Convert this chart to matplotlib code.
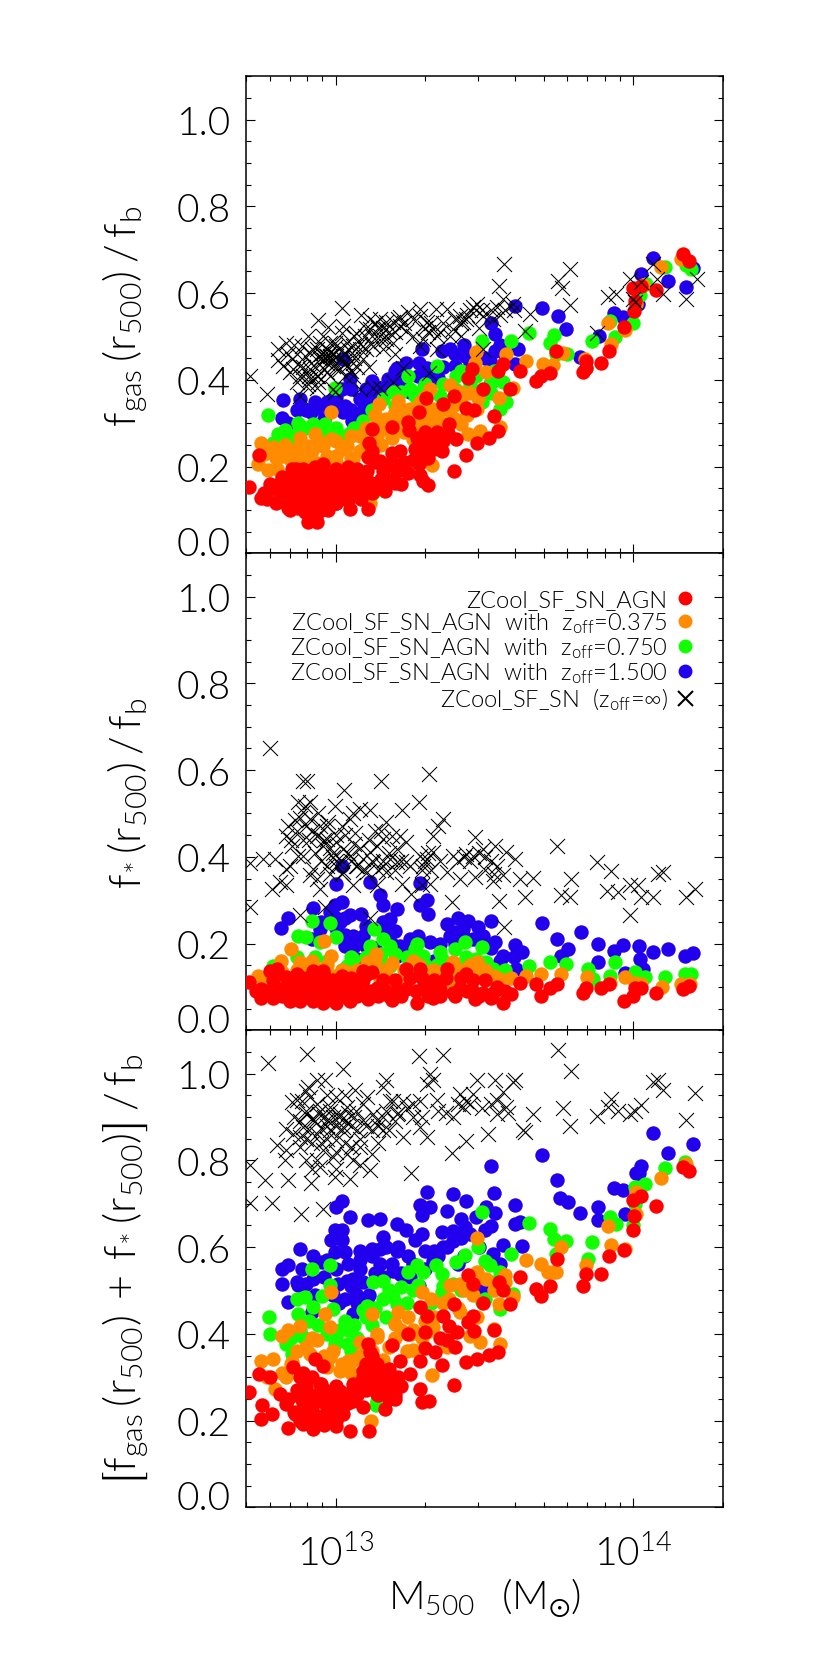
# -*- coding: utf-8 -*-
import numpy as np
import matplotlib
matplotlib.use('Agg')
import matplotlib.pyplot as plt
from matplotlib.lines import Line2D
from matplotlib.ticker import MultipleLocator, LogLocator, NullFormatter, FixedLocator
from matplotlib.transforms import ScaledTranslation

plt.rcParams['font.family'] = ['Lato', 'DejaVu Sans']
plt.rcParams['font.weight'] = 300
plt.rcParams['axes.labelweight'] = 300
plt.rcParams['mathtext.default'] = 'regular'

# (log10 M500, fraction)
red_gas = [(14.165,.69),(14.187,.675),(14.077,.608),(13.999,.611),(14.024,.617),(14.005,.582),(14.002,.559),(13.968,.521),
 (13.918,.467),(13.89,.44),(13.839,.444),(13.839,.428),(13.829,.418),(13.741,.467),(13.719,.415),(13.688,.408),(13.674,.398),
 (13.62,.42),(13.585,.38),(13.562,.436),(13.545,.421),(13.495,.378),(13.459,.425),(13.445,.405),(13.439,.336),(13.464,.331),
 (13.532,.317),(13.545,.282),(13.515,.267),(13.473,.255),(13.437,.227),(13.398,.19),(13.403,.263),(13.381,.298),(13.361,.344),
 (13.398,.362),(13.302,.358),(13.28,.325),(13.243,.303),(13.187,.292),(13.12,.286),(13.111,.255),(13.377,.278),(13.299,.28),
 (13.271,.267),(13.327,.263),(13.355,.236),(13.293,.232),(13.215,.236),(13.187,.232),(13.109,.221),(13.148,.213),(13.181,.205),
 (13.215,.198),(13.243,.186),(13.282,.18),(13.31,.158),(13.293,.167),(13.198,.163),(13.165,.144),(13.153,.172),(13.109,.167),
 (13.075,.155),(13.041,.198),(13.019,.186),(12.957,.205),(12.89,.194),(12.854,.194),(13.109,.103),(13.049,.103),(13.002,.117),
 (12.963,.103),(12.938,.072),(12.907,.072),(12.84,.105),(12.873,.105),(12.812,.121),(12.75,.127),(12.758,.14),(12.778,.159),
 (12.812,.163),(12.709,.152),(12.742,.226),(12.834,.148),(12.868,.155),(12.901,.163),(12.935,.171),(12.969,.155),(13.002,.148),
 (13.036,.148),(13.069,.14),(13.103,.148),(12.879,.132),(12.913,.125),(12.946,.132),(12.98,.125),(12.924,.148),(12.957,.178),
 (12.851,.175),(12.89,.175),(13.013,.132),(13.058,.171),(12.929,.098),(13.137,.163),(12.812,.14),
 (12.77,.125),(12.79,.15),(12.80,.115),(12.82,.175),(12.83,.125),(12.845,.10),(12.85,.155),(12.86,.125),(12.865,.195),(12.875,.14),
 (12.885,.11),(12.89,.155),(12.895,.095),(12.905,.19),(12.91,.14),(12.92,.115),(12.925,.17),(12.935,.09),(12.94,.145),(12.945,.195),
 (12.95,.115),(12.96,.15),(12.97,.18),(12.975,.10),(12.985,.14),(12.99,.17),(13.0,.115),(13.01,.15),(13.02,.17),(13.03,.125),
 (13.045,.165),(13.05,.13),(13.07,.16),(13.085,.125),(13.09,.17),(13.105,.19),(13.12,.14),(13.13,.21),(13.15,.15),(13.16,.19),
 (13.18,.17),(13.19,.21),(13.205,.19),(13.22,.16),(13.23,.21),(13.26,.215),(13.28,.205),(13.31,.22),(13.33,.24),(13.265,.24),
 (13.12,.235),(13.07,.195),(13.0,.195),(12.93,.20),(13.245,.285),(13.34,.28),(13.36,.26),(13.3,.26)]
orange_gas = [(14.094,.66),(14.161,.678),(13.915,.53),(13.971,.516),(13.926,.482),(13.837,.448),(13.763,.463),(13.696,.436),
 (13.73,.434),(13.638,.444),(13.573,.459),(13.472,.465),(13.467,.44),(13.506,.417),(13.383,.388),(13.316,.379),(13.209,.352),
 (13.144,.344),(12.985,.325),(13.137,.313),(13.198,.325),(13.248,.333),(13.282,.348),(13.327,.333),(13.417,.371),(13.478,.359),
 (13.549,.359),(13.596,.382),(13.473,.333),(13.445,.275),(13.484,.283),(13.551,.292),(13.422,.298),(13.327,.309),(13.338,.282),
 (13.282,.286),(13.17,.286),(13.137,.27),(13.081,.27),(13.036,.248),(12.983,.263),(12.879,.267),(12.75,.255),(12.789,.244),
 (12.851,.236),(12.907,.248),(12.957,.248),(12.739,.207),(12.772,.192),(12.803,.195),(13.324,.204),(13.058,.217),(13.002,.225),
 (12.913,.225),(12.846,.217),(13.114,.117),(12.935,.208),(13.26,.263),(13.394,.34),(14.01,.575),(14.032,.618),
 (12.8,.22),(12.83,.25),(12.87,.235),(12.89,.215),(12.92,.235),(12.94,.26),(12.97,.225),(13.0,.21),(13.02,.24),(13.05,.22),
 (13.08,.235),(13.1,.25),(13.12,.23),(13.15,.25),(13.17,.31),(13.19,.265),(13.21,.31),(13.23,.28),(13.25,.30),(13.28,.31),
 (13.3,.33),(13.31,.30),(13.35,.33),(13.38,.33),(13.36,.30),(13.4,.31),(13.42,.35),(13.44,.32),(13.45,.37),(13.3,.36),
 (13.27,.335),(13.23,.33),(13.21,.34),(13.16,.30),(13.13,.32),(13.10,.29),(13.05,.27),(13.0,.26),(12.93,.275),(12.88,.25),
 (12.82,.225),(12.76,.23),(13.02,.19),(13.07,.19),(13.14,.21)]
green_gas = [(12.773,.318),(12.873,.301),(12.924,.298),(12.963,.298),(13.002,.29),(12.806,.275),(12.834,.263),(12.79,.255),
 (12.795,.236),(13.047,.278),(13.092,.305),(12.996,.382),(13.243,.408),(13.341,.431),(13.404,.41),(13.49,.49),(13.587,.49),
 (13.65,.507),(13.734,.504),(13.719,.485),(13.778,.459),(13.741,.459),(13.86,.49),(13.937,.498),(13.92,.536),(13.999,.53),
 (14.042,.621),(14.106,.66),(14.178,.664),(13.192,.371),(13.22,.371),(13.265,.363),(13.293,.379),(13.349,.363),(13.523,.394),
 (13.562,.394),(13.573,.348),(13.551,.333),(13.49,.348),(13.842,.428),(14.022,.595),(13.126,.14),(13.103,.125),(14.195,.655),
 (13.265,.298),
 (12.83,.285),(12.87,.275),(12.90,.29),(12.95,.27),(12.98,.28),(13.02,.27),(13.06,.29),(13.12,.33),(13.16,.355),(13.2,.34),
 (13.25,.38),(13.3,.39),(13.36,.39),(13.4,.38),(13.45,.39),(13.48,.37),(13.52,.37),(13.53,.42),(13.47,.41),(13.42,.42),
 (12.8,.25),(12.85,.25)]
blue_gas = [(14.067,.682),(14.117,.628),(14.176,.614),(14.2,.659),(14.024,.644),(13.966,.544),(13.936,.554),(13.885,.502),
 (13.821,.452),(13.775,.517),(13.747,.548),(13.694,.565),(13.601,.571),(13.523,.532),(13.534,.505),(13.612,.47),(13.601,.436),
 (13.534,.467),(13.517,.444),(13.433,.456),(13.383,.47),(13.355,.467),(13.288,.47),(13.237,.44),(13.204,.428),(13.305,.428),
 (13.277,.409),(13.344,.405),(13.4,.432),(13.523,.394),(13.176,.402),(13.12,.398),(13.047,.402),(13.025,.448),(13.148,.382),
 (13.248,.371),(12.823,.354),(12.879,.355),(12.818,.313),(12.84,.301),(12.935,.336),(12.969,.348),(13.013,.336),(13.081,.355),
 (13.114,.363),(13.025,.325),(13.053,.305),(12.991,.355),(12.918,.325),(14.015,.575),
 (12.87,.33),(12.9,.33),(12.93,.35),(12.96,.31),(12.98,.33),(13.0,.36),(13.03,.34),(13.05,.33),(13.07,.31),(13.09,.33),
 (13.11,.35),(13.13,.38),(13.16,.37),(13.18,.38),(13.2,.42),(13.22,.40),(13.28,.44),(13.32,.41),(13.36,.43),(13.4,.46),
 (13.43,.48),(13.45,.44),(13.48,.45),(13.5,.45),(13.55,.48),(13.57,.46),(13.3,.39),(13.05,.38),(13.1,.38),(13.02,.38)]
cross_gas = [(12.713,.41),(12.767,.367),(12.806,.472),(12.806,.445),(12.834,.486),(12.846,.417),(12.868,.394),(12.879,.363),
 (12.907,.502),(12.94,.537),(12.974,.521),(13.019,.565),(13.084,.549),(13.019,.509),(12.996,.486),(12.935,.47),(12.957,.463),
 (12.98,.455),(13.002,.455),(13.03,.463),(13.058,.478),(13.081,.482),(12.946,.448),(12.969,.44),(12.991,.432),(13.013,.425),
 (13.036,.432),(13.058,.44),(12.913,.425),(12.89,.409),(12.913,.402),(12.935,.409),(12.896,.455),(12.918,.44),(12.879,.432),
 (12.851,.448),(12.935,.382),(12.907,.39),(12.991,.378),(12.996,.371),(13.081,.378),(13.058,.409),(13.126,.382),(13.148,.382),
 (13.192,.394),(13.224,.428),(13.314,.415),(13.114,.54),(13.148,.54),(13.17,.533),(13.192,.533),(13.215,.545),(13.243,.556),
 (13.282,.563),(13.114,.517),(13.148,.502),(13.17,.494),(13.192,.486),(13.126,.478),(13.092,.448),(13.237,.513),(13.282,.548),
 (13.305,.533),(13.327,.517),(13.349,.51),(13.293,.494),(13.282,.478),(13.338,.563),(13.372,.563),(13.417,.548),(13.439,.54),
 (13.461,.567),(13.473,.575),(13.394,.517),(13.428,.533),(13.383,.502),(13.495,.548),(13.54,.567),(13.562,.586),(13.549,.617),
 (13.565,.667),(13.596,.575),(13.528,.54),(13.495,.47),(13.635,.513),(13.652,.552),(13.747,.628),(13.786,.655),(13.761,.611),
 (13.786,.572),(13.879,.508),(13.915,.592),(13.943,.598),(13.988,.632),(14.005,.579),(14.027,.625),(14.067,.667),(14.078,.632),
 (14.1,.598),(14.178,.586),(14.212,.632),(13.999,.586),(13.17,.517),(13.215,.525),(13.069,.509),(13.097,.502),(13.114,.486),
 (13.036,.486),(12.98,.486),(13.053,.463),(12.857,.425),(12.823,.432),(12.885,.478),(12.969,.417),(12.913,.463),(12.946,.486),
 (13.002,.478),(12.957,.502),(13.025,.525),
 (12.87,.46),(12.89,.43),(12.92,.47),(12.93,.43),(12.95,.45),(12.96,.425),(12.97,.47),(12.98,.44),(12.99,.46),(13.0,.43),
 (13.01,.47),(13.02,.45),(13.03,.44),(13.04,.47),(13.05,.42),(13.06,.45),(12.95,.46),(12.96,.445),(12.97,.455),(12.98,.465),
 (12.99,.445),(12.94,.41),(12.91,.41),(12.88,.41),(12.9,.385),(12.94,.395),(12.98,.41),(13.03,.41),(13.07,.43),(13.1,.47),
 (13.12,.5),(13.14,.52),(13.16,.52),(13.18,.51),(13.2,.51),(13.21,.54),(13.13,.53),(13.15,.49),(13.1,.52),(13.23,.53),
 (13.26,.54),(13.3,.52),(13.32,.53),(13.34,.5),(13.36,.53),(13.31,.51),(13.4,.54),(13.42,.53),(13.44,.55),(13.45,.56),
 (13.47,.56),(13.49,.56),(13.48,.52),(13.52,.56),(13.55,.55),(13.57,.56),(13.6,.56),
 (12.84,.46),(12.86,.48),(13.06,.5),(13.08,.47),(13.11,.43),(13.16,.47),(13.2,.46),(13.26,.5),(13.34,.47),(13.42,.5)]

red_star = [(12.709,.112),(12.75,.095),(12.75,.075),(12.789,.075),(12.812,.095),(12.846,.068),(12.879,.068),(12.924,.068),
 (12.957,.064),(13.002,.064),(13.049,.068),(13.109,.072),(13.271,.064),(13.327,.075),(13.394,.087),(13.467,.072),(13.562,.064),
 (13.587,.083),(13.62,.11),(13.674,.106),(13.688,.08),(13.719,.098),(13.744,.106),(13.829,.087),(13.839,.098),(13.89,.097),
 (13.918,.106),(13.968,.068),(13.999,.079),(14.005,.098),(14.027,.098),(14.077,.087),(14.165,.095),(14.187,.102),(12.778,.137),
 (12.801,.141),(12.834,.122),(12.868,.106),(12.901,.098),(12.935,.122),(12.969,.098),(13.002,.106),(13.036,.091),(13.069,.106),
 (13.103,.129),(13.137,.098),(13.17,.091),(13.204,.091),(13.237,.141),(13.282,.141),(13.316,.11),(13.293,.098),(13.349,.095),
 (13.372,.141),(13.439,.129),(13.495,.087),(13.529,.087),(13.417,.098),(13.237,.095),(12.924,.137),(12.957,.137),(13.092,.137),
 (12.857,.087),(12.913,.083),(12.98,.083),(13.081,.083),(13.148,.083),(13.462,.091),
 (12.73,.09),(12.77,.09),(12.79,.115),(12.82,.08),(12.84,.11),(12.86,.085),(12.87,.13),(12.89,.09),(12.9,.12),(12.92,.08),
 (12.93,.11),(12.95,.09),(12.96,.125),(12.98,.075),(12.99,.115),(13.01,.085),(13.02,.125),(13.04,.075),(13.05,.12),(13.07,.08),
 (13.09,.115),(13.11,.09),(13.12,.135),(13.14,.08),(13.16,.115),(13.18,.08),(13.2,.115),(13.22,.08),(13.25,.12),(13.27,.09),
 (13.29,.12),(13.31,.08),(13.33,.115),(13.35,.08),(13.37,.12),(13.4,.08),(13.42,.12),(13.44,.09),(13.46,.115),(13.48,.08),
 (13.5,.115),(13.52,.075),(13.54,.1),(13.57,.09),(13.19,.07),(13.31,.1),(13.02,.10),(12.92,.105)]
orange_star = [(12.848,.188),(12.961,.205),(12.985,.172),(13.134,.176),(12.879,.157),(12.815,.16),(12.739,.126),(12.772,.118),
 (13.036,.134),(13.103,.157),(13.17,.14),(13.26,.16),(13.327,.14),(13.394,.157),(13.473,.157),(13.484,.134),(13.551,.118),
 (13.64,.126),(13.69,.13),(13.758,.13),(13.844,.122),(13.92,.11),(14.005,.11),(14.027,.106),(14.095,.099),(14.161,.107),
 (14.189,.107),(13.972,.122),(13.226,.11),(13.148,.118),(13.305,.118),(13.07,.11),(13.394,.11),(12.767,.107),(12.89,.134),
 (12.946,.14),
 (12.82,.135),(12.87,.14),(12.92,.16),(12.97,.15),(13.02,.14),(13.07,.14),(13.1,.14),(13.13,.16),(13.19,.155),(13.23,.14),
 (13.28,.15),(13.32,.125),(13.36,.135),(13.42,.14),(13.45,.15),(13.5,.14),(13.53,.125),(13.59,.12),(13.3,.125),(13.41,.125),
 (13.17,.125),(12.99,.125)]
green_star = [(12.921,.251),(12.98,.247),(12.873,.218),(12.901,.215),(13.002,.215),(12.946,.203),(13.128,.234),(13.159,.211),
 (13.114,.195),(13.182,.195),(13.271,.199),(13.265,.188),(13.293,.172),(13.35,.18),(13.355,.165),(13.4,.188),(13.434,.203),
 (13.49,.192),(13.439,.168),(13.506,.157),(13.568,.138),(13.65,.149),(13.719,.157),(13.773,.153),(13.848,.142),(13.937,.157),
 (13.92,.126),(14.005,.134),(14.039,.122),(14.106,.122),(14.173,.13),(14.195,.13),(13.058,.165),(13.036,.149),(13.182,.149),
 (12.79,.149),(13.529,.142),(13.865,.118),(13.271,.149),
 (12.93,.17),(12.97,.16),(13.05,.17),(13.1,.17),(13.15,.175),(13.2,.175),(13.24,.17),(13.3,.15),(13.34,.15),(13.42,.15),
 (13.47,.165),(13.52,.13),(13.56,.125),(13.16,.155),(12.87,.17),(13.02,.14)]
blue_star = [(13.019,.38),(13.002,.338),(13.114,.342),(13.282,.34),(13.148,.311),(13.159,.288),(13.204,.28),(13.282,.288),
 (13.31,.268),(13.305,.3),(12.924,.282),(12.996,.288),(13.019,.295),(12.84,.259),(12.815,.235),(12.98,.272),(13.047,.265),
 (13.086,.268),(13.013,.249),(13.058,.218),(13.092,.218),(13.03,.195),(13.181,.257),(13.17,.226),(13.215,.195),(13.204,.172),
 (13.248,.211),(13.277,.218),(13.316,.203),(13.372,.245),(13.411,.26),(13.445,.253),(13.478,.238),(13.523,.253),(13.383,.218),
 (13.495,.218),(13.534,.203),(13.562,.172),(13.601,.197),(13.624,.18),(13.607,.142),(13.694,.248),(13.744,.21),(13.781,.188),
 (13.758,.172),(13.823,.226),(13.881,.2),(13.882,.158),(13.934,.183),(13.965,.197),(14.018,.195),(14.022,.165),(14.067,.18),
 (14.117,.188),(14.172,.172),(14.2,.178),(13.972,.132),(14.033,.142),(13.405,.226),(13.428,.234),(13.237,.188),(13.114,.188),
 (12.946,.234),
 (13.0,.235),(13.03,.22),(13.06,.195),(13.07,.165),(13.1,.195),(13.13,.19),(13.16,.25),(13.19,.2),(13.2,.23),(13.23,.18),
 (13.26,.18),(13.29,.17),(13.33,.16),(13.4,.2),(13.44,.21),(13.46,.21),(13.49,.2),(13.52,.19),(13.55,.16),(13.6,.17),
 (12.92,.21),(12.95,.25),(13.0,.26),(13.03,.26),(13.1,.24),(13.35,.2)]
cross_star = [(12.778,.651),(12.89,.576),(12.903,.576),(13.151,.574),(13.314,.59),(13.027,.554),(13.278,.526),(13.223,.508),
 (13.114,.508),(13.081,.51),(13.058,.502),(12.874,.526),(12.896,.518),(12.913,.526),(12.89,.503),(12.84,.472),(12.862,.484),
 (12.913,.488),(12.946,.472),(12.974,.48),(12.996,.518),(13.047,.488),(13.019,.472),(13.064,.456),(12.935,.449),(12.969,.442),
 (13.002,.434),(13.025,.418),(12.991,.41),(12.957,.426),(12.834,.449),(12.851,.426),(12.873,.403),(13.17,.48),(13.187,.449),
 (13.159,.442),(13.137,.426),(13.114,.411),(13.092,.395),(13.361,.488),(13.344,.472),(13.327,.449),(13.215,.449),(13.237,.434),
 (13.204,.418),(13.181,.395),(13.159,.38),(13.126,.388),(13.047,.403),(13.069,.38),(13.025,.365),(12.924,.372),(12.935,.349),
 (12.946,.326),(12.834,.372),(12.812,.342),(12.784,.326),(12.831,.334),(12.756,.395),(12.795,.395),(12.713,.385),(13.058,.334),
 (12.711,.284),(12.963,.284),(12.879,.266),(13.114,.258),(13.221,.338),(13.254,.315),(13.288,.334),(13.316,.338),(13.39,.297),
 (13.549,.299),(13.637,.307),(13.565,.238),(13.282,.403),(13.305,.395),(13.327,.411),(13.293,.38),(13.372,.365),(13.394,.403),
 (13.439,.407),(13.467,.445),(13.461,.403),(13.495,.418),(13.534,.426),(13.573,.411),(13.601,.395),(13.54,.38),(13.562,.357),
 (13.417,.349),(13.467,.353),(13.529,.345),(13.618,.349),(13.663,.351),(13.744,.424),(13.789,.349),(13.758,.311),(13.786,.307),
 (13.879,.388),(13.926,.368),(13.912,.322),(13.949,.318),(13.988,.334),(14.016,.334),(14.027,.307),(14.067,.307),(13.988,.265),
 (14.083,.361),(14.1,.364),(14.178,.307),(14.207,.326),(13.103,.365),(13.17,.365),(13.204,.388),(13.002,.38),(12.969,.38),
 (12.89,.403),(12.913,.357),(12.846,.38),(13.237,.388),(13.137,.334),
 (12.88,.49),(12.9,.47),(12.92,.46),(12.94,.45),(12.96,.44),(12.98,.42),(12.99,.40),(13.0,.39),(13.02,.39),(13.04,.41),
 (13.06,.43),(13.08,.42),(13.05,.39),(13.07,.38),(13.09,.37),(13.02,.36),(12.98,.36),(12.95,.39),(12.93,.41),(12.91,.44),
 (12.89,.44),(12.87,.46),(12.85,.44),(13.12,.39),(13.14,.37),(13.16,.39),(13.18,.41),(13.2,.37),(13.22,.39),(13.25,.38),
 (13.3,.39),(13.32,.37),(13.29,.37),(13.31,.41),(13.35,.39),(13.41,.39),(13.43,.4),(13.45,.39),(13.48,.41),(13.5,.4),
 (13.52,.39),(13.5,.37),(13.53,.36),(13.11,.44),(13.13,.46),(13.15,.46),(12.97,.47),(12.94,.5),(13.0,.45),(13.03,.45)]

red_tot = [(12.709,.265),(12.742,.308),(12.778,.3),(12.753,.236),(12.75,.204),(12.787,.215),(12.84,.184),(12.857,.323),(12.93,.342),
 (12.957,.327),(12.924,.18),(13.002,.188),(13.049,.175),(13.111,.175),(13.165,.227),(13.198,.25),(13.282,.273),(13.291,.242),
 (13.313,.244),(13.398,.282),(13.355,.329),(13.437,.336),(13.473,.342),(13.515,.352),(13.545,.357),(13.398,.469),(13.445,.535),
 (13.462,.515),(13.495,.47),(13.549,.519),(13.562,.5),(13.585,.468),(13.62,.531),(13.674,.504),(13.688,.488),(13.719,.511),
 (13.744,.573),(13.829,.51),(13.839,.538),(13.89,.538),(13.918,.58),(13.968,.593),(13.999,.64),(14.002,.672),(13.999,.709),
 (14.024,.717),(14.077,.694),(14.165,.785),(14.187,.776),(13.282,.462),(13.305,.442),(13.361,.442),(13.38,.419),(13.407,.404),
 (13.374,.385),(13.462,.442),(13.445,.427),(13.464,.406),(13.532,.408),(13.243,.4),(13.187,.375),(13.109,.377),(13.114,.357),
 (13.299,.368),(13.333,.358),(13.282,.338),(13.215,.338),(13.137,.331),(13.092,.315),(13.17,.308),(13.248,.308),(13.192,.277),
 (13.148,.285),(13.103,.292),(13.058,.285),(13.013,.269),(13.058,.246),(13.092,.231),(12.879,.3),(12.901,.277),(12.946,.285),
 (12.969,.269),(13.002,.254),(12.969,.231),(12.924,.238),(12.879,.254),(12.834,.238),(12.812,.262),(12.862,.215),(12.901,.215),
 (12.935,.2),(12.969,.208),(13.025,.215),(12.89,.192),(13.17,.269),(13.137,.262),
 (12.84,.25),(12.86,.22),(12.87,.27),(12.88,.2),(12.89,.24),(12.9,.26),(12.91,.2),(12.92,.22),(12.93,.26),(12.94,.21),
 (12.95,.245),(12.96,.19),(12.97,.25),(12.98,.21),(12.99,.23),(13.0,.2),(13.01,.245),(13.02,.23),(13.03,.26),(13.04,.24),
 (13.05,.265),(13.07,.26),(13.08,.285),(13.09,.3),(13.1,.27),(13.11,.3),(13.12,.28),(13.13,.31),(13.14,.26),(13.15,.31),
 (13.16,.28),(13.17,.29),(13.18,.32),(13.19,.3),(13.2,.26),(13.21,.3),(13.22,.28),(13.18,.25),(12.95,.285),(12.92,.3),
 (12.89,.31),(13.0,.28),(13.1,.33),(13.12,.35),(13.3,.405),(13.35,.39),(13.4,.37)]
orange_tot = [(12.75,.338),(12.789,.342),(12.851,.335),(12.818,.396),(12.879,.419),(12.935,.385),(12.84,.408),(12.963,.446),
 (12.985,.496),(12.98,.415),(13.12,.446),(13.137,.4),(13.209,.45),(13.243,.438),(13.288,.496),(13.321,.481),(13.383,.512),
 (13.417,.516),(13.473,.542),(13.473,.62),(13.568,.535),(13.506,.527),(13.596,.485),(13.549,.469),(13.638,.571),(13.758,.6),
 (13.691,.562),(13.713,.543),(13.73,.543),(13.842,.558),(13.926,.605),(13.915,.648),(14.01,.727),(14.01,.677),(13.971,.596),
 (14.094,.76),(14.178,.792),(13.532,.412),(13.551,.377),(13.484,.382),(13.45,.396),(13.473,.438),(13.417,.45),(13.327,.416),
 (13.305,.404),(13.254,.4),(13.198,.423),(13.081,.381),(13.137,.392),(13.26,.362),(13.324,.306),(13.117,.198),(12.98,.346),
 (13.041,.338),(13.013,.315),(13.058,.308),(12.913,.354),(12.834,.3),(12.795,.273),(12.969,.323),(12.767,.3),(13.372,.369),
 (13.741,.543),
 (12.82,.31),(12.85,.33),(12.87,.36),(12.9,.37),(12.92,.39),(12.96,.35),(12.99,.36),(13.02,.33),(13.06,.34),(13.08,.35),
 (13.12,.36),(13.16,.34),(13.18,.37),(13.2,.39),(13.24,.36),(13.22,.41),(13.26,.41),(13.29,.39),(13.3,.43),(13.33,.44),
 (13.36,.47),(13.38,.48),(13.41,.46),(13.43,.5),(13.46,.49),(13.48,.53),(13.53,.5),(13.57,.52),(13.05,.31),(13.1,.37)]
green_tot = [(12.775,.438),(12.78,.4),(12.834,.377),(12.873,.446),(12.87,.48),(12.896,.485),(12.921,.549),(12.98,.559),(12.98,.512),
 (12.952,.488),(12.991,.458),(12.924,.462),(12.851,.354),(12.89,.392),(13.013,.408),(13.041,.408),(12.996,.377),(13.041,.377),
 (13.092,.454),(13.103,.465),(13.126,.519),(13.159,.523),(13.22,.508),(13.192,.485),(13.204,.469),(13.243,.542),(13.271,.558),
 (13.293,.542),(13.277,.512),(13.338,.558),(13.355,.538),(13.405,.565),(13.434,.581),(13.478,.6),(13.5,.569),(13.517,.558),
 (13.55,.542),(13.49,.681),(13.587,.585),(13.65,.655),(13.719,.642),(13.734,.619),(13.775,.614),(13.741,.585),(13.86,.612),
 (13.848,.573),(13.92,.669),(13.943,.654),(14.005,.739),(14.039,.746),(14.106,.783),(14.173,.796),(13.596,.492),(13.551,.458),
 (13.49,.473),(13.355,.496),(13.394,.515),(13.134,.235),(13.999,.65),(14.005,.7),(13.137,.246),
 (12.85,.39),(12.88,.41),(12.91,.43),(12.94,.42),(12.97,.4),(13.0,.39),(13.03,.43),(13.06,.42),(13.07,.39),(13.05,.36),
 (13.1,.44),(13.13,.46),(13.16,.48),(13.18,.5),(13.24,.47),(13.26,.5),(13.29,.46),(13.32,.47),(13.36,.51),(13.42,.5),
 (13.45,.5),(13.5,.48),(13.53,.52),(13.12,.42),(13.17,.44)]
blue_tot = [(13.019,.706),(13,.692),(13.047,.67),(12.996,.639),(13.019,.639),(12.985,.616),(13.019,.616),(12.879,.596),(12.924,.58),
 (12.818,.55),(12.84,.558),(12.885,.55),(12.952,.565),(12.82,.514),(12.873,.512),(12.924,.527),(12.84,.473),(13.008,.515),
 (13.036,.523),(13.081,.55),(13.058,.527),(13.103,.481),(13.069,.492),(13.058,.446),(12.996,.588),(13.03,.588),(13.081,.592),
 (13.12,.596),(13.148,.596),(13.159,.623),(13.204,.59),(13.243,.58),(13.109,.662),(13.148,.664),(13.204,.654),(13.237,.639),
 (13.265,.616),(13.288,.631),(13.307,.727),(13.282,.696),(13.316,.692),(13.288,.673),(13.392,.723),(13.439,.706),(13.532,.725),
 (13.506,.692),(13.534,.678),(13.523,.648),(13.374,.683),(13.422,.665),(13.358,.636),(13.394,.638),(13.434,.646),(13.394,.615),
 (13.372,.6),(13.299,.592),(13.327,.569),(13.344,.58),(13.523,.786),(13.601,.698),(13.601,.654),(13.62,.658),(13.562,.606),
 (13.624,.602),(13.529,.585),(13.694,.813),(13.744,.755),(13.753,.713),(13.779,.704),(13.82,.679),(13.881,.692),(13.881,.662),
 (13.934,.737),(13.965,.732),(13.972,.677),(14.018,.771),(14.024,.788),(14.016,.771),(14.067,.863),(14.117,.817),(14.2,.838),
 (13.192,.546),(13.215,.538),(13.148,.562),(13.495,.504),(14.01,.77),
 (12.9,.515),(12.93,.49),(12.96,.53),(12.99,.49),(13.01,.47),(13.03,.48),(13.05,.51),(13.07,.47),(13.09,.52),(13.11,.49),
 (13.13,.54),(13.16,.53),(13.19,.56),(13.22,.54),(13.25,.53),(13.28,.51),(13.3,.55),(12.87,.52),(12.92,.45),(12.97,.57),
 (13.0,.55),(13.04,.56),(13.08,.57),(13.12,.58),(13.17,.6),(13.21,.6),(13.26,.56),(13.33,.59),(13.36,.6),(13.42,.62),
 (13.45,.63),(13.48,.6),(13.5,.64),(13.47,.67),(13.43,.58),(13.41,.56),(13.55,.56)]
cross_tot = [(12.713,.79),(12.713,.702),(12.784,.702),(12.883,.677),(12.957,.689),(12.762,.754),(12.84,.755),(12.915,.747),(13.049,.757),
 (12.996,.761),(13.114,.777),(13.252,.771),(13.39,.817),(13.439,.844),(13.51,.862),(13.635,.865),(13.663,.908),(13.762,.921),
 (13.786,.879),(13.747,1.054),(13.79,1.006),(12.773,1.025),(12.904,1.045),(13.025,1.01),(13.279,1.04),(13.361,1.042),(13.879,.902),
 (13.926,.942),(13.915,.923),(13.949,.915),(13.988,.908),(14.027,.927),(14.005,.915),(14.067,.981),(14.084,.985),(14.1,.963),
 (14.178,.894),(14.207,.956),(12.907,.969),(12.885,.938),(12.851,.935),(12.963,.985),(12.913,.946),(12.935,.931),(13.002,.946),
 (12.98,.923),(13.064,.962),(12.946,.915),(12.901,.908),(12.924,.892),(12.969,.892),(13.013,.908),(13.036,.923),(13.069,.915),
 (13.092,.892),(12.89,.877),(12.857,.862),(12.834,.873),(12.801,.835),(12.834,.823),(12.829,.8),(12.879,.854),(12.935,.862),
 (12.98,.869),(13.025,.877),(13.002,.846),(12.957,.823),(12.935,.8),(12.946,.785),(12.991,.808),(13.036,.815),(13.058,.8),
 (13.12,.815),(13.081,.831),(13.17,.985),(13.159,.969),(13.192,.938),(13.17,.915),(13.204,.908),(13.226,.938),(13.137,.892),
 (13.159,.869),(13.226,.854),(13.282,.938),(13.305,.977),(13.327,.985),(13.316,1.0),(13.282,.877),(13.305,.854),(13.344,.915),
 (13.394,.9),(13.417,.954),(13.439,.938),(13.461,.954),(13.473,.985),(13.428,.923),(13.535,.985),(13.601,.985),(13.562,.958),
 (13.573,.923),(13.54,.908),(13.63,.869),(13.596,.981),(12.935,.985),(13.103,.946),(13.126,.908),(13.181,.938),(13.26,.931),
 (12.86,.9),(12.88,.89),(12.9,.915),(12.91,.87),(12.93,.89),(12.94,.91),(12.95,.875),(12.96,.9),(12.97,.88),(12.98,.915),
 (12.99,.9),(13.0,.88),(13.01,.9),(13.02,.87),(13.03,.89),(13.04,.91),(13.05,.88),(13.06,.9),(13.07,.87),(13.1,.88),
 (13.12,.87),(13.14,.88),(13.16,.9),(13.18,.87),(13.2,.89),(13.21,.91),(13.24,.92),(13.26,.9),(13.29,.9),(12.88,.83),
 (12.9,.85),(12.92,.84),(12.95,.84),(12.97,.85),(13.0,.82),(13.03,.84),(13.05,.83),(13.08,.85),(13.34,.94),(13.37,.91),
 (13.41,.93),(13.45,.93),(13.49,.92),(13.52,.93),(13.54,.94),(13.58,.91),
 (12.87,.94),(12.9,.96),(12.97,.95),(13.03,.95),(13.09,.93),(12.9,.8),(12.92,.78),(13.0,.78),(13.08,.79),(13.14,.84)]

xlim = (5e12, 2e14)
ylim = (0.0, 1.1)
yticks = [0.0, 0.2, 0.4, 0.6, 0.8, 1.0]
ylabels = [r'$f_{gas}\,(r_{500})\,/\,f_b$',
           r'$f_{*}\,(r_{500})\,/\,f_b$',
           r'$\left[f_{gas}\,(r_{500})\,+\,f_{*}\,(r_{500})\right]\,/\,f_b$']
colors = ['#2200EE', '#11FF00', '#FF8C00', '#FF0000']
panels = [[blue_gas, green_gas, orange_gas, red_gas, cross_gas],
          [blue_star, green_star, orange_star, red_star, cross_star],
          [blue_tot, green_tot, orange_tot, red_tot, cross_tot]]
W, H = 830, 1665
left, right, top, ph = 246.3, 723.0, 77.3, 477.0

fig = plt.figure(figsize=(W/100, H/100), dpi=100, facecolor='white')
axes = []
for i in range(3):
    ax = fig.add_axes([left/W, 1-(top+ph*(i+1))/H, (right-left)/W, ph/H])
    axes.append(ax)
    for j in range(4):
        pts = np.array(panels[i][j])
        ax.scatter(10**pts[:, 0], pts[:, 1], s=108, c=colors[j], linewidths=0, zorder=2+j)
    pts = np.array(panels[i][4])
    ax.scatter(10**pts[:, 0], pts[:, 1], s=117, c='k', marker='x', linewidths=0.75, zorder=7)
    ax.set_xscale('log')
    ax.set_xlim(xlim)
    ax.set_ylim(ylim)
    ax.yaxis.set_major_locator(FixedLocator(yticks))
    ax.yaxis.set_minor_locator(MultipleLocator(0.05))
    ax.set_yticklabels(['%.1f' % t for t in yticks])
    ax.xaxis.set_major_locator(FixedLocator([1e13, 1e14]))
    ax.xaxis.set_minor_locator(LogLocator(base=10, subs=np.arange(2, 10), numticks=12))
    ax.xaxis.set_minor_formatter(NullFormatter())
    ax.tick_params(which='major', direction='in', top=True, right=True, length=6.7, width=0.8, labelsize=28, pad=11)
    ax.tick_params(which='minor', direction='in', top=True, right=True, length=3.6, width=0.8)
    for s in ax.spines.values():
        s.set_linewidth(1.1)
    if i < 2:
        ax.set_xticklabels([])
    else:
        ax.set_xticklabels([r'$10^{13}$', r'$10^{14}$'])
        ax.tick_params(axis='x', which='major', pad=19)
        ax.set_xlabel(r'$M_{500}\ \ (M_{\odot})$', fontsize=29, labelpad=2)
    lab = ax.set_ylabel(ylabels[i], fontsize=31)
    ax.yaxis.set_label_coords((150-left)/(right-left), 0.5)
    # the 0.0 label sits above the corner of the panel
    t0 = ax.get_yticklabels()[0]
    t0.set_transform(t0.get_transform() + ScaledTranslation(0, 0.125, fig.dpi_scale_trans))

handles = [Line2D([], [], ls='', marker='o', ms=10, mfc=colors[3], mec='none'),
           Line2D([], [], ls='', marker='o', ms=10, mfc=colors[2], mec='none'),
           Line2D([], [], ls='', marker='o', ms=10, mfc=colors[1], mec='none'),
           Line2D([], [], ls='', marker='o', ms=10, mfc=colors[0], mec='none'),
           Line2D([], [], ls='', marker='x', ms=10.8, mec='k', mew=1.5)]
names = ['ZCool_SF_SN_AGN',
         'ZCool_SF_SN_AGN  with  $z_{off}$=0.375',
         'ZCool_SF_SN_AGN  with  $z_{off}$=0.750',
         'ZCool_SF_SN_AGN  with  $z_{off}$=1.500',
         r'ZCool_SF_SN  ($z_{off}$=$\infty$)']
axes[1].legend(handles, names, loc='upper right', markerfirst=False, frameon=False, fontsize=17,
               bbox_to_anchor=(0.945, 0.925), borderaxespad=0, borderpad=0, handlelength=1.0,
               handletextpad=0.23, labelspacing=0.02)

fig.savefig('out.png', dpi=100)
